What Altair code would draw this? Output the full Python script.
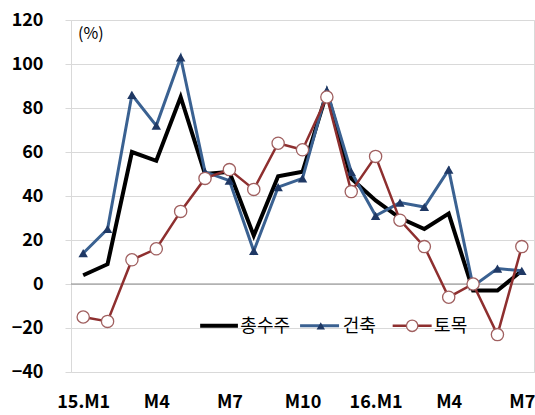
import altair as alt
import pandas as pd

months = list(range(19))
tick_labels = ["15.M1", "M4", "M7", "M10", "16.M1", "M4", "M7"]
total = [4, 9, 60, 56, 85, 50, 51, 22, 49, 51, 87, 48, 38, 30, 25, 32, -3, -3, 6]
building = [14, 25, 86, 72, 103, 51, 47, 15, 44, 48, 88, 51, 31, 37, 35, 52, -1, 7, 6]
civil = [-15, -17, 11, 16, 33, 48, 52, 43, 64, 61, 85, 42, 58, 29, 17, -6, 0, -23, 17]
series_names = ["총수주", "건축", "토목"]

df_total = pd.DataFrame({"m": months, "v": total})
df_build = pd.DataFrame({"m": months, "v": building})
df_civil = pd.DataFrame({"m": months, "v": civil})

label_expr = "[" + ",".join("'%s'" % t for t in tick_labels) + "][round(datum.value/3)]"

FONT = "Noto Sans CJK KR"

x = alt.X("m:Q", scale=alt.Scale(domain=[-0.5, 18.5], nice=False, zero=False),
          axis=alt.Axis(values=[0, 3, 6, 9, 12, 15, 18], labelExpr=label_expr, grid=False,
                        ticks=False, domain=False, labelFont=FONT, labelFontWeight="bold",
                        labelFontSize=18, labelColor="#000000", labelPadding=21, title=None,
                        labelOverlap=False, labelBaseline="top"))
y = alt.Y("v:Q", scale=alt.Scale(domain=[-40, 120], nice=False),
          axis=alt.Axis(values=list(range(-40, 121, 20)), grid=True, gridColor="#D9D9D9",
                        ticks=True, tickSize=6, tickColor="#D9D9D9", domain=False,
                        labelFont=FONT, labelFontWeight="bold",
                        labelFontSize=18, labelColor="#000000", labelPadding=22, title=None,
                        labelAlign="right"))

zero = alt.Chart(pd.DataFrame({"v": [0]})).mark_rule(color="#8C8C8C", strokeWidth=1.2).encode(y=y)

line_total = alt.Chart(df_total).mark_line(color="#000000", strokeWidth=4).encode(x=x, y=y)
line_build = alt.Chart(df_build).mark_line(color="#3A6191", strokeWidth=3).encode(x=x, y=y)
pts_build = alt.Chart(df_build).mark_point(shape="triangle-up", filled=True, color="#1F3864",
                                           size=90, opacity=1).encode(x=x, y=y)
line_civil = alt.Chart(df_civil).mark_line(color="#8E2F2F", strokeWidth=2.5).encode(x=x, y=y)
pts_civil = alt.Chart(df_civil).mark_point(shape="circle", filled=True, fill="#FFFFFF",
                                           stroke="#A06060", strokeWidth=1.3, size=150,
                                           opacity=1).encode(x=x, y=y)

ly = -19
leg_lines = pd.DataFrame({
    "m": [4.8, 6.35, 8.9, 10.5, 12.7, 14.3],
    "v": [ly] * 6,
    "s": ["a", "a", "b", "b", "c", "c"],
})
leg_black = alt.Chart(leg_lines[leg_lines.s == "a"]).mark_line(color="#000000", strokeWidth=4).encode(x=x, y=y)
leg_blue = alt.Chart(leg_lines[leg_lines.s == "b"]).mark_line(color="#3A6191", strokeWidth=3).encode(x=x, y=y)
leg_red = alt.Chart(leg_lines[leg_lines.s == "c"]).mark_line(color="#8E2F2F", strokeWidth=2.5).encode(x=x, y=y)
leg_tri = alt.Chart(pd.DataFrame({"m": [9.75], "v": [ly]})).mark_point(
    shape="triangle-up", filled=True, color="#1F3864", size=70, opacity=1).encode(x=x, y=y)
leg_circ = alt.Chart(pd.DataFrame({"m": [13.5], "v": [ly]})).mark_point(
    shape="circle", filled=True, fill="#FFFFFF", stroke="#A06060", strokeWidth=1.3, size=130,
    opacity=1).encode(x=x, y=y)
leg_text = alt.Chart(pd.DataFrame({"m": [6.45, 10.65, 14.4], "v": [ly] * 3, "t": series_names})).mark_text(
    align="left", baseline="middle", font=FONT, fontSize=18, color="#000000", dy=1
).encode(x=x, y=y, text="t:N")

unit = alt.Chart(pd.DataFrame({"t": ["(%)"]})).mark_text(
    align="left", baseline="middle", font=FONT, fontSize=16, color="#000000"
).encode(x=alt.value(7), y=alt.value(14), text="t:N")

chart = alt.layer(
    zero, line_total, line_build, pts_build, line_civil, pts_civil,
    leg_black, leg_blue, leg_red, leg_tri, leg_circ, leg_text, unit
).properties(
    width=463, height=352, autosize=alt.AutoSizeParams(type="none"),
    padding={"left": 71, "top": 20, "right": 1, "bottom": 43},
    background="#FFFFFF"
).configure_view(stroke="#D9D9D9", strokeWidth=1)

chart.save("out.html", embed_options={"renderer": "svg", "actions": False})
